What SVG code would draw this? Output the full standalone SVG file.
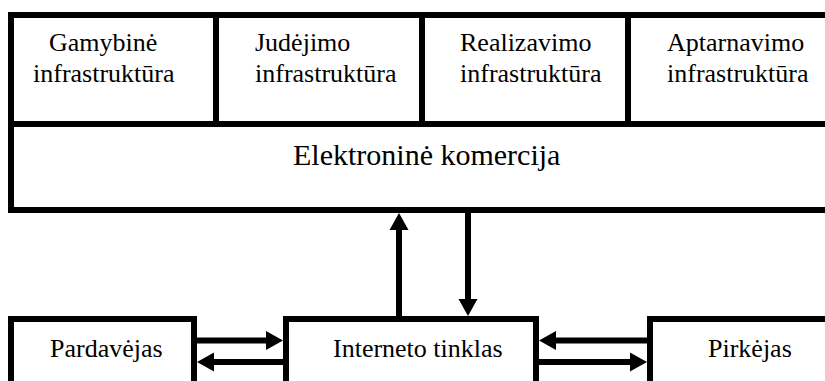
<svg xmlns="http://www.w3.org/2000/svg" width="825" height="381" viewBox="0 0 825 381">
<style>
.box{fill:#fff;stroke:#000;stroke-width:6}
text{font-family:'Liberation Serif','Times New Roman',serif;font-size:26px;fill:#000}
.big{font-size:30px}
.c{stroke:#000;stroke-width:6;fill:none}
</style>
<defs>
<marker id="ah" markerUnits="userSpaceOnUse" markerWidth="18" markerHeight="20" refX="0" refY="9.5" orient="auto" overflow="visible">
<path d="M0,0 L17,9.5 L0,19 z" fill="#000"/>
</marker>
</defs>
<rect width="825" height="381" fill="#fff"/>
<g id="gamybine">
<rect class="box" x="11" y="15" width="205" height="109"/>
<text x="49" y="51">Gamybinė</text>
<text x="33" y="82">infrastruktūra</text>
</g>
<g id="judejimo">
<rect class="box" x="216" y="15" width="206" height="109"/>
<text x="255" y="51">Judėjimo</text>
<text x="255" y="82">infrastruktūra</text>
</g>
<g id="realizavimo">
<rect class="box" x="422" y="15" width="206" height="109"/>
<text x="460" y="51">Realizavimo</text>
<text x="460" y="82">infrastruktūra</text>
</g>
<g id="aptarnavimo">
<rect class="box" x="628" y="15" width="220" height="109"/>
<text x="667" y="51">Aptarnavimo</text>
<text x="667" y="82">infrastruktūra</text>
</g>
<g id="komercija">
<rect class="box" x="11" y="124" width="837" height="86"/>
<text class="big" x="293" y="165">Elektroninė komercija</text>
</g>
<g id="pardavejas">
<rect class="box" x="11" y="319" width="183" height="100"/>
<text x="50" y="357">Pardavėjas</text>
</g>
<g id="internetas">
<rect class="box" x="286" y="319" width="250" height="100"/>
<text x="333" y="357">Interneto tinklas</text>
</g>
<g id="pirkejas">
<rect class="box" x="650" y="319" width="200" height="100"/>
<text x="708" y="357">Pirkėjas</text>
</g>
<g id="connectors">
<line class="c" x1="399" y1="316" x2="399" y2="230" marker-end="url(#ah)"/>
<line class="c" x1="468" y1="213" x2="468" y2="299" marker-end="url(#ah)"/>
<line class="c" x1="197" y1="340.5" x2="266" y2="340.5" marker-end="url(#ah)"/>
<line class="c" x1="283" y1="362" x2="214" y2="362" marker-end="url(#ah)"/>
<line class="c" x1="647" y1="340.5" x2="556" y2="340.5" marker-end="url(#ah)"/>
<line class="c" x1="539" y1="362" x2="630" y2="362" marker-end="url(#ah)"/>
</g>
</svg>
